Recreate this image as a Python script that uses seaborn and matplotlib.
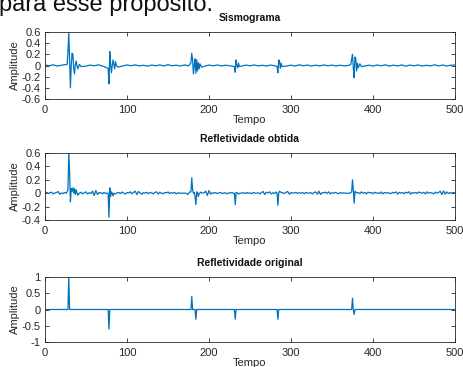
import numpy as np
import pandas as pd
import matplotlib
matplotlib.use("Agg")
import matplotlib.pyplot as plt
import seaborn as sns

# ---------------- data ----------------
tempo_max = 500

# Sismograma: baseline samples every 5 time units + wavelet bursts
sis_base_step = 5
sis_base_a = [
    0.01, -0.005, 0.012, -0.01, 0.005, 0.0, 0.0, 0.0, 0.0, 0.0,
    -0.012, 0.008, -0.005, 0.012, -0.008, 0.005, -0.01, 0.0, 0.0, -0.008,
    0.01, -0.005, 0.012, -0.008, 0.005, -0.012, 0.008, -0.004, 0.01, -0.008,
    0.015, -0.005, 0.006, -0.01, 0.01, -0.006, 0.0, 0.0, 0.0, -0.01,
    0.008, -0.006, 0.01, -0.008, 0.005, -0.004, 0.0, 0.0, -0.01, 0.008,
    -0.006, 0.01, -0.008, 0.005, -0.01, 0.008, -0.004, 0.0, 0.0, -0.008,
    0.006, -0.01, 0.012, -0.005, 0.008, -0.01, 0.006, -0.008, 0.01, -0.005,
    0.008, -0.01, 0.005, -0.006, 0.0, 0.0, 0.0, 0.0, -0.008, 0.006,
    -0.01, 0.008, -0.005, 0.012, -0.01, 0.006, -0.008, 0.01, -0.012, 0.008,
    -0.006, 0.01, -0.01, 0.005, -0.008, 0.012, -0.006, 0.008, -0.01, 0.006,
    0.008,
]
sis_burst_t = [27, 28, 29, 30, 31, 32, 33, 34, 35, 36, 37, 38, 39, 40, 42, 44,
               77, 78, 79, 80, 81, 82, 83, 84, 85, 86, 87, 89,
               178, 179, 180, 181, 182, 183, 184, 185, 186, 187, 188, 189, 191,
               231, 232, 233, 234, 235, 236, 237,
               283, 284, 285, 286, 287, 288, 289,
               373, 374, 375, 376, 377, 378, 379, 380, 381, 382, 384, 386]
sis_burst_a = [0.02, 0.25, 0.58, 0.1, -0.4, 0.0, 0.22, 0.2, -0.05, -0.15, 0.02, 0.08, 0.0, -0.06, 0.02, -0.02,
               -0.05, -0.33, 0.25, 0.02, -0.13, 0.0, 0.1, 0.02, -0.06, 0.07, 0.0, -0.03,
               0.05, 0.22, 0.1, -0.15, 0.0, 0.12, -0.14, 0.1, -0.1, 0.05, -0.06, 0.03, -0.03,
               -0.02, -0.12, 0.1, 0.0, -0.04, 0.04, -0.02,
               -0.02, -0.13, 0.1, 0.08, -0.05, 0.04, -0.02,
               0.02, 0.12, 0.2, -0.05, -0.22, 0.15, 0.12, -0.1, 0.04, -0.04, 0.03, -0.02]

# Refletividade obtida: noisy baseline every 2 time units + recovered spikes
obt_base_step = 2
obt_base_a = [
    0.005, 0.012, -0.004, 0.008, 0.015, -0.01, 0.002, 0.01, 0.025, -0.015,
    0.004, -0.006, 0.012, 0.0, 0.0, 0.0, 0.0, 0.0, 0.0, 0.0,
    0.0, 0.0, 0.015, -0.01, 0.005, 0.02, -0.012, 0.008, -0.004, 0.03,
    -0.035, 0.04, -0.02, 0.01, 0.006, -0.008, 0.012, -0.005, 0.002, 0.0,
    0.0, 0.0, 0.0, -0.01, 0.005, 0.012, -0.006, 0.018, 0.0, -0.012,
    0.01, 0.004, 0.02, -0.008, 0.012, 0.03, -0.02, 0.025, 0.006, -0.015,
    0.008, 0.0, 0.014, -0.006, 0.01, 0.005, -0.01, 0.012, 0.02, -0.012,
    0.015, 0.0, -0.008, 0.01, 0.004, 0.018, -0.005, 0.008, 0.0, 0.012,
    -0.01, 0.006, 0.0, 0.0, 0.0, 0.0, 0.0, -0.02, 0.015, 0.005,
    -0.006, 0.01, 0.002, 0.012, -0.008, 0.016, 0.0, 0.006, 0.03, -0.035,
    0.04, -0.015, 0.008, 0.0, 0.01, -0.006, 0.004, 0.012, -0.004, 0.0,
    0.008, -0.01, 0.006, 0.002, 0.012, -0.005, 0.0, 0.01, -0.012, 0.004,
    0.0, 0.008, -0.006, 0.01, 0.0, 0.005, -0.008, 0.012, 0.002, 0.0,
    0.006, -0.01, 0.01, 0.025, -0.02, 0.015, 0.005, 0.02, -0.012, 0.008,
    -0.006, 0.018, 0.004, 0.0, 0.01, 0.006, -0.005, 0.014, 0.025, -0.015,
    0.01, 0.0, 0.006, 0.012, -0.004, 0.008, 0.0, 0.01, -0.008, 0.012,
    0.004, 0.0, 0.008, -0.01, 0.01, 0.02, -0.015, 0.03, -0.02, 0.01,
    0.005, 0.016, -0.004, 0.02, -0.01, 0.008, 0.0, 0.012, 0.004, -0.008,
    0.01, 0.0, 0.006, 0.0, 0.0, 0.0, 0.0, 0.0, -0.012, 0.015,
    0.004, 0.01, -0.006, 0.02, 0.0, 0.012, -0.01, 0.016, 0.005, 0.01,
    -0.008, 0.014, 0.0, 0.006, -0.004, 0.018, -0.01, 0.012, 0.002, 0.008,
    0.0, -0.006, 0.012, 0.004, 0.02, -0.012, 0.014, 0.0, 0.01, -0.008,
    0.015, 0.004, 0.022, -0.015, 0.01, 0.0, 0.012, -0.004, 0.018, 0.006,
    0.0, 0.014, -0.01, 0.02, 0.0, 0.008, 0.004, -0.01, 0.016, 0.002,
    0.01, 0.03, -0.02, 0.035, -0.015, 0.02, -0.006, 0.01, 0.0, 0.012,
    0.004,
]
obt_spike_t = [28, 29, 30, 31, 32, 33, 34, 35, 36, 37, 38, 40,
               77, 78, 79, 80, 81, 83,
               178, 179, 180, 181, 183, 184, 185, 187,
               231, 232, 233,
               283, 284, 285, 286,
               374, 375, 376, 377, 378]
obt_spike_a = [0.05, 0.6, 0.3, -0.13, 0.07, 0.03, 0.08, 0.0, 0.07, -0.02, 0.05, -0.03,
               0.0, -0.36, 0.08, -0.05, 0.02, -0.04,
               0.02, 0.23, 0.05, 0.0, -0.05, -0.17, 0.02, -0.05,
               0.0, -0.17, 0.01,
               0.0, -0.18, 0.0, 0.03,
               0.02, 0.2, 0.05, -0.15, 0.03]

# Refletividade original: sparse reflection coefficients
orig_t = [29, 78, 179, 184, 232, 284, 375, 377]
orig_a = [1.0, -0.6, 0.4, -0.3, -0.3, -0.3, 0.35, -0.15]


def merge(base_step, base_a, burst_t, burst_a, gap):
    bt = np.arange(len(base_a)) * base_step
    burst_t = np.asarray(burst_t)
    keep = [np.min(np.abs(burst_t - t)) > gap for t in bt]
    df = pd.DataFrame({"Tempo": np.concatenate([bt[keep], burst_t]),
                       "Amplitude": np.concatenate([np.asarray(base_a)[keep], burst_a])})
    return df.sort_values("Tempo").reset_index(drop=True)


sis_df = merge(sis_base_step, sis_base_a, sis_burst_t, sis_burst_a, 2)
obt_df = merge(obt_base_step, obt_base_a, obt_spike_t, obt_spike_a, 0.5)
orig_full = np.zeros(tempo_max + 1)
orig_full[orig_t] = orig_a
orig_df = pd.DataFrame({"Tempo": np.arange(tempo_max + 1), "Amplitude": orig_full})

# ---------------- plot ----------------
sns.set_theme(style="white")
plt.rcParams["font.family"] = ["Liberation Sans", "DejaVu Sans"]

line_color = "#0072BD"
W, H = 464, 367
fig = plt.figure(figsize=(W / 100, H / 100), dpi=100)

panels = [
    ("Sismograma", sis_df, (-0.6, 0.6), [-0.6, -0.4, -0.2, 0, 0.2, 0.4, 0.6],
     ["-0.6", "-0.4", "-0.2", "0", "0.2", "0.4", "0.6"], (32, 99)),
    ("Refletividade obtida", obt_df, (-0.4, 0.6), [-0.4, -0.2, 0, 0.2, 0.4, 0.6],
     ["-0.4", "-0.2", "0", "0.2", "0.4", "0.6"], (153, 220)),
    ("Refletividade original", orig_df, (-1, 1), [-1, -0.5, 0, 0.5, 1],
     ["-1", "-0.5", "0", "0.5", "1"], (277, 342)),
]

left_px, right_px = 45, 455
for title, df, ylim, yt, ytl, (top_px, bot_px) in panels:
    ax = fig.add_axes([left_px / W, 1 - bot_px / H, (right_px - left_px) / W, (bot_px - top_px) / H])
    sns.lineplot(data=df, x="Tempo", y="Amplitude", ax=ax, color=line_color, linewidth=0.9)
    ax.set_xlim(0, tempo_max)
    ax.set_ylim(*ylim)
    ax.set_xticks([0, 100, 200, 300, 400, 500])
    ax.set_xticklabels(["0", "100", "200", "300", "400", "500"])
    ax.set_yticks(yt)
    ax.set_yticklabels(ytl)
    ax.tick_params(direction="in", length=3, width=0.6, colors="#262626",
                   labelsize=8, pad=3, top=True, right=True, bottom=True, left=True)
    ax.tick_params(axis="x", pad=4)
    for s in ax.spines.values():
        s.set_color("#262626")
        s.set_linewidth(0.6)
    ax.set_title(title, fontsize=7.5, fontweight="bold", pad=8, color="#111111")
    ax.set_xlabel("Tempo", fontsize=8, labelpad=0, color="#262626")
    ax.set_ylabel("Amplitude", fontsize=8, labelpad=1, color="#262626")

fig.text(-0.002, 1 - 11 / H, "para esse propósito.", fontsize=17, color="#111111",
         ha="left", va="baseline")

fig.savefig("out.png", dpi=100, facecolor="white")
